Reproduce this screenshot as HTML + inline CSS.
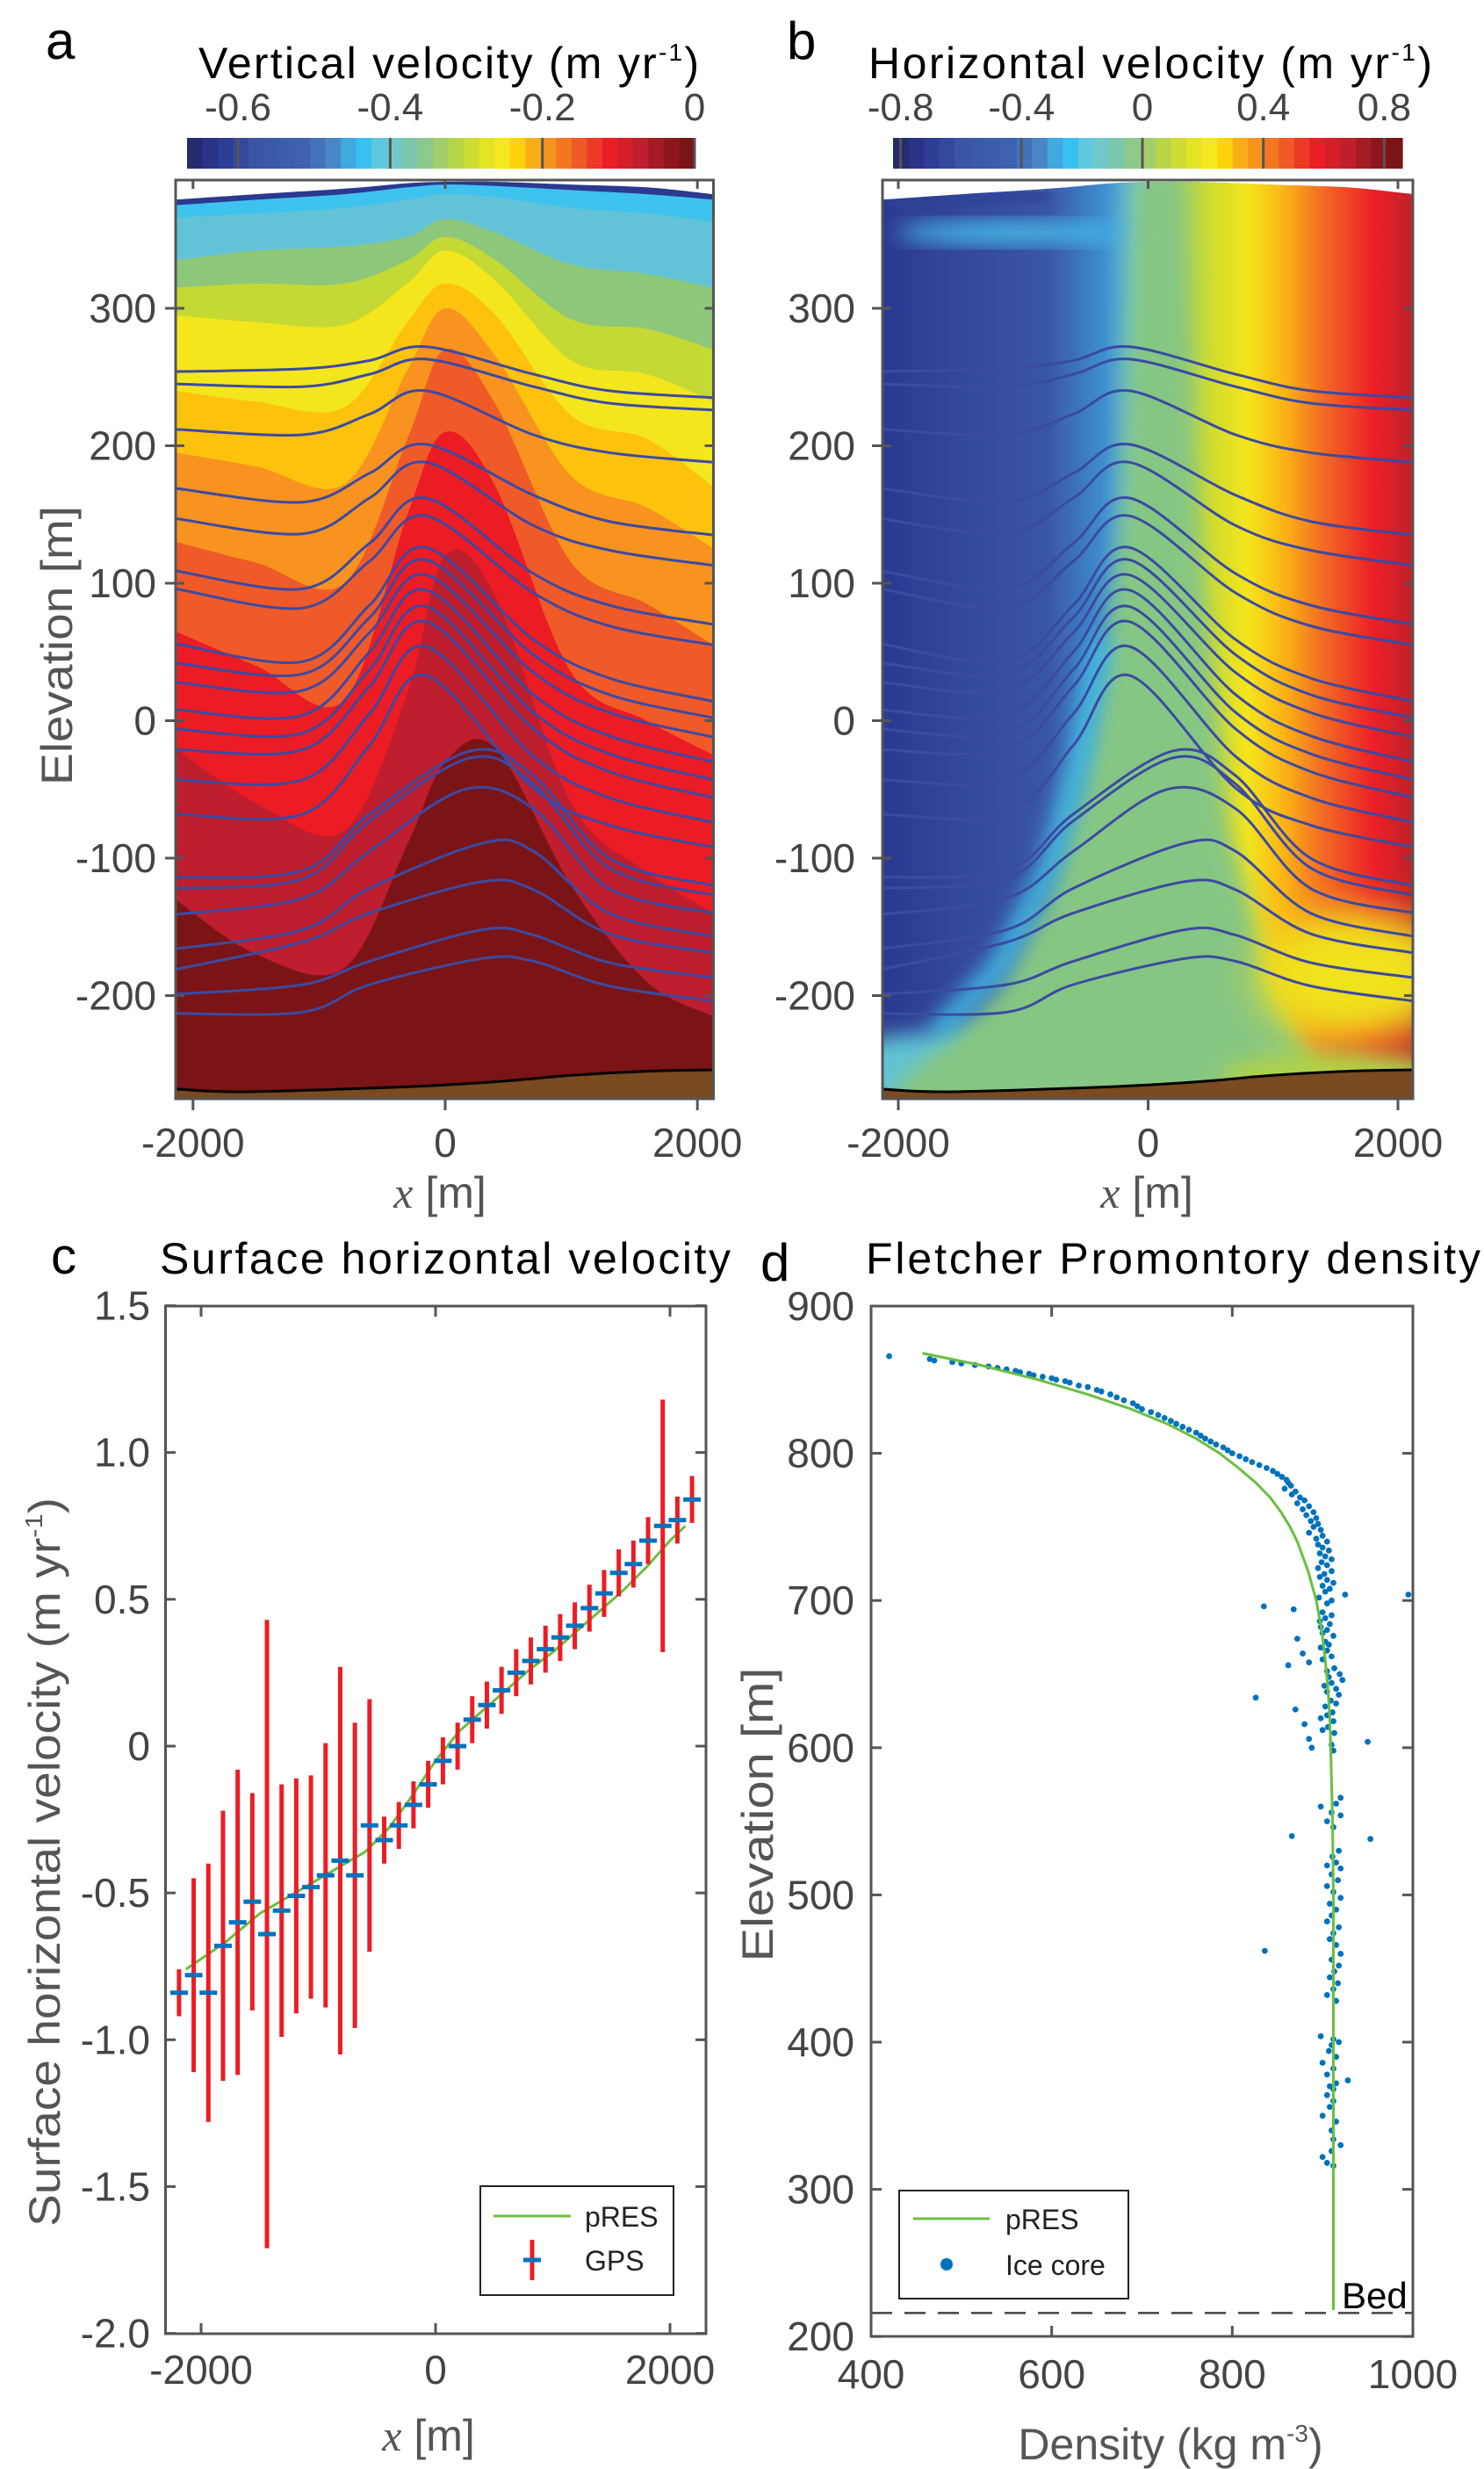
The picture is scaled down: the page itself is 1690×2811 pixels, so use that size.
<!DOCTYPE html>
<html><head><meta charset="utf-8"><style>
html,body{margin:0;padding:0;background:#fff;}
svg{display:block;font-family:"Liberation Sans",sans-serif;}
</style></head><body>
<svg id="fig" xmlns="http://www.w3.org/2000/svg" width="1690" height="2811" viewBox="0 0 1690 2811">
<defs>
  <clipPath id="clipA"><rect x="200" y="205" width="612.5" height="1046"/></clipPath>
  <clipPath id="clipB"><rect x="1005" y="205" width="604" height="1046"/></clipPath>
  <filter id="blur12" x="-30%" y="-30%" width="160%" height="160%"><feGaussianBlur stdDeviation="12"/></filter>
  <filter id="blur20" x="-50%" y="-50%" width="200%" height="200%"><feGaussianBlur stdDeviation="22"/></filter>
  <filter id="blur6" x="-20%" y="-20%" width="140%" height="140%"><feGaussianBlur stdDeviation="6"/></filter>
</defs>

<g>
  <text x="52" y="67" font-size="60" fill="#000">a</text>
  <text x="226" y="89" font-size="50" textLength="570" fill="#000">Vertical velocity (m yr<tspan font-size="28" dy="-20">-1</tspan><tspan dy="20">)</tspan></text>
  <g id="cbarA"></g>
  <g id="fieldA" clip-path="url(#clipA)"></g>
  <g id="linesA" clip-path="url(#clipA)"></g>
  <rect x="200" y="205" width="612.5" height="1046" fill="none" stroke="#555" stroke-width="3"/>
  <g id="ticksA"></g>
  <text transform="translate(82,735) rotate(-90)" text-anchor="middle" font-size="50" textLength="318" lengthAdjust="spacingAndGlyphs" fill="#555">Elevation [m]</text>
  <text x="501" y="1375" text-anchor="middle" font-size="50" fill="#555"><tspan font-style="italic" font-family="Liberation Serif, serif">x</tspan> [m]</text>
</g>

<g>
  <text x="896" y="67" font-size="60" fill="#000">b</text>
  <text x="989" y="89" font-size="50" textLength="642" fill="#000">Horizontal velocity (m yr<tspan font-size="28" dy="-20">-1</tspan><tspan dy="20">)</tspan></text>
  <g id="cbarB"></g>
  <g id="fieldB" clip-path="url(#clipB)"></g>
  <g id="linesB" clip-path="url(#clipB)"></g>
  <rect x="1005" y="205" width="604" height="1046" fill="none" stroke="#555" stroke-width="3"/>
  <g id="ticksB"></g>
  <text x="1306" y="1375" text-anchor="middle" font-size="50" fill="#555"><tspan font-style="italic" font-family="Liberation Serif, serif">x</tspan> [m]</text>
</g>

<g>
  <text x="58" y="1450" font-size="58" fill="#000">c</text>
  <text x="182" y="1450" font-size="50" textLength="650" fill="#000">Surface horizontal velocity</text>
  <g id="plotC"></g>
  <rect x="188.5" y="1487" width="615.5" height="1170" fill="none" stroke="#555" stroke-width="3"/>
  <g id="ticksC"></g>
  <text transform="translate(68,2120) rotate(-90)" text-anchor="middle" font-size="50" textLength="830" lengthAdjust="spacingAndGlyphs" fill="#555">Surface horizontal velocity (m yr<tspan font-size="28" dy="-20">-1</tspan><tspan dy="20">)</tspan></text>
  <text x="488" y="2790" text-anchor="middle" font-size="50" fill="#555"><tspan font-style="italic" font-family="Liberation Serif, serif">x</tspan> [m]</text>
  <g>
    <rect x="547" y="2489" width="220" height="124" fill="#fff" stroke="#222" stroke-width="2"/>
    <line x1="562" y1="2523" x2="650" y2="2523" stroke="#6abf3f" stroke-width="3"/>
    <text x="666" y="2535" font-size="32" fill="#222">pRES</text>
    <line x1="606" y1="2550" x2="606" y2="2596" stroke="#ed1c24" stroke-width="5"/>
    <line x1="596" y1="2573" x2="616" y2="2573" stroke="#0072bd" stroke-width="5"/>
    <text x="666" y="2585" font-size="32" fill="#222">GPS</text>
  </g>
</g>

<g>
  <text x="866" y="1458" font-size="60" fill="#000">d</text>
  <text x="986" y="1450" font-size="50" textLength="700" fill="#000">Fletcher Promontory density</text>
  <g id="plotD"></g>
  <rect x="992" y="1487" width="617" height="1173" fill="none" stroke="#555" stroke-width="3"/>
  <g id="ticksD"></g>
  <text transform="translate(880,2066) rotate(-90)" text-anchor="middle" font-size="50" textLength="335" lengthAdjust="spacingAndGlyphs" fill="#555">Elevation [m]</text>
  <text x="1333" y="2800" text-anchor="middle" font-size="50" fill="#555">Density (kg m<tspan font-size="28" dy="-20">-3</tspan><tspan dy="20">)</tspan></text>
  <text x="1528" y="2628" font-size="42" fill="#000">Bed</text>
  <g>
    <rect x="1024" y="2494" width="261" height="123" fill="#fff" stroke="#222" stroke-width="2"/>
    <line x1="1040" y1="2526" x2="1127" y2="2526" stroke="#6abf3f" stroke-width="3"/>
    <text x="1145" y="2538" font-size="32" fill="#222">pRES</text>
    <circle cx="1078" cy="2578" r="7" fill="#0072bd"/>
    <text x="1145" y="2590" font-size="32" fill="#222">Ice core</text>
  </g>
</g>
</svg>

<script>
const NS="http://www.w3.org/2000/svg";
const cmapColors=["#262b6e","#2a3388","#2e3d95","#34489e","#3a55a6","#3c58a8","#3d5cab","#3f62ae","#4372b8","#4a86c5","#3fa9e0","#38c1ee","#5dc8e0","#70c9c8","#7cc7ac","#8dc88c","#a2ce6b","#b8d54a","#cddd33","#e3e424","#f2e81d","#fdd20b","#f9ae18","#f7941d","#f37621","#ef5a27","#ec3a26","#ea1e25","#d41f28","#bd1f2c","#a51b24","#8d161c","#7a1418"];
const cbarATicks=[-0.6,-0.4,-0.2,0];
const cbarATickLabels=["-0.6","-0.4","-0.2","0"];
const cbarBTicks=[-0.8,-0.4,0,0.4,0.8];
const cbarBTickLabels=["-0.8","-0.4","0","0.4","0.8"];
const elevTicks=[-200,-100,0,100,200,300];
const elevTickLabels=["-200","-100","0","100","200","300"];
const xTicks=[-2000,0,2000];
const xTickLabels=["-2000","0","2000"];

const layerPeakX=[-150,-150,-150,-150,-150,-150,-150,-150,-150,-150,-150,-150,-150,-150,-150,200,200,150,300,300,300,300];
const layerElev=[
 [254,256,262,272,252,240,235],
 [245,243,252,263,243,231,226],
 [212,208,223,240,208,195,188],
 [169,159,180,201,164,145,135],
 [147,136,162,188,142,124,113],
 [109,96,129,162,107,84,70],
 [96,82,116,149,93,69,55],
 [56,43,84,126,59,31,14],
 [42,34,75,117,48,19,2],
 [28,22,64,106,35,6,-12],
 [8,4,50,95,19,-11,-30],
 [-6,-9,37,83,6,-24,-43],
 [-21,-21,25,72,-6,-37,-56],
 [-43,-43,5,54,-26,-56,-74],
 [-68,-68,-18,33,-49,-76,-92],
 [-114,-109,-68,-22,-40,-100,-120],
 [-122,-115,-73,-27,-46,-107,-127],
 [-141,-129,-95,-50,-64,-122,-140],
 [-166,-152,-122,-89,-95,-140,-157],
 [-181,-161,-140,-117,-123,-155,-169],
 [-199,-192,-175,-152,-156,-176,-187],
 [-213,-212,-192,-173,-175,-193,-204]
];
const bandX=[-2139,-1500,-800,-300,0,400,1000,1600,2128];
const bandColors=["#2b3990","#3ec3ee","#62c2d8","#8dc77a","#c4d934","#f4e61c","#fdc20e","#f7931e","#f05a28","#ec1c24","#be1e2d","#7b1416"];
const bandElev=[
 [379,383,387,391,392,392,390,388,383],
 [375,379,383,388,390,389,386,383,379],
 [366,369,373,379,383,381,373,369,363],
 [335,342,345,352,365,355,332,325,315],
 [315,318,318,335,352,335,292,285,270],
 [295,290,288,318,342,320,262,252,232],
 [240,232,228,290,318,295,222,205,170],
 [195,185,172,255,300,265,178,155,125],
 [130,115,100,205,270,230,115,85,55],
 [65,40,15,150,210,170,35,0,-25],
 [-20,-60,-80,20,120,90,-60,-110,-140],
 [-130,-170,-180,-90,-30,-20,-120,-190,-215]
];
const surfElev=[379,383,387,391,392,392,390,388,383];
const bedX=[-2139,-1600,-500,0,500,1000,1600,2128];
const bedElev=[-268,-270,-267,-265,-262,-258,-255,-254];
const bGradX=[-2139,-1500,-800,-350,-100,150,500,800,1100,1400,1800,2128];
const bGradColors=["#2b3990","#34479d","#3a56a7","#3f8fd0","#6cc5d0","#8ac87c","#cfdc2f","#f5e51b","#fbb116","#f26b23","#ec2027","#c0202a"];

const gpsX=[-2188,-2063,-1938,-1813,-1688,-1563,-1438,-1313,-1188,-1063,-938,-813,-688,-563,-438,-313,-188,-63,63,188,313,438,563,688,813,938,1063,1188,1313,1438,1563,1688,1813,1938,2063,2188];
const gpsV=[-0.84,-0.78,-0.84,-0.68,-0.60,-0.53,-0.64,-0.56,-0.51,-0.48,-0.44,-0.39,-0.44,-0.27,-0.32,-0.27,-0.20,-0.13,-0.05,0.00,0.09,0.14,0.19,0.25,0.29,0.33,0.37,0.41,0.47,0.52,0.59,0.62,0.70,0.75,0.77,0.84];
const gpsErr=[0.08,0.33,0.44,0.46,0.52,0.37,1.07,0.43,0.40,0.38,0.45,0.66,0.52,0.43,0.08,0.08,0.08,0.08,0.08,0.08,0.08,0.08,0.08,0.08,0.08,0.08,0.08,0.08,0.08,0.08,0.08,0.08,0.08,0.43,0.08,0.08];
const presX=[-2130,-1800,-1500,-1200,-900,-600,-400,-200,0,200,400,600,800,1000,1200,1400,1600,1800,2000,2130];
const presV=[-0.76,-0.67,-0.57,-0.50,-0.43,-0.36,-0.28,-0.17,-0.05,0.05,0.12,0.19,0.26,0.32,0.39,0.46,0.53,0.61,0.70,0.75];
const cYTicks=[-2.0,-1.5,-1.0,-0.5,0,0.5,1.0,1.5];
const cYTickLabels=["-2.0","-1.5","-1.0","-0.5","0","0.5","1.0","1.5"];

const presElev=[868,860,850,840,830,820,810,800,790,780,770,760,750,740,720,700,680,660,640,620,600,550,500,400,300,218];
const presDens=[457,520,585,640,688,728,760,786,807,826,842,854,864,872,884,893,899,903,906,908,909,911,912,912,912,912];
const coreElev=[866,864,863,862,861,860,859,858,857,856,855,854,853,852,851,850,849,848,846,845,843,842,840,838,836,834,832,830,828,826,824,822,820,818,816,814,812,810,808,806,804,802,800,798,796,794,792,790,788,786,784,782,780,778,776,774,772,770,768,766,764,762,760,758,756,754,752,750,748,746,744,742,740,738,736,734,732,730,728,726,724,722,720,718,716,714,712,710,708,706,704,702,700,698,696,694,692,690,688,686,684,682,680,678,676,674,672,670,668,666,664,662,660,658,656,654,652,650,648,646,644,642,640,638,636,634,632,630,628,626,624,622,620,618,616,614,612,610,606,604,602,600,598,566,562,560,556,554,550,546,540,538,530,526,522,520,518,514,510,506,502,498,494,490,486,482,478,474,470,466,462,460,456,452,448,444,440,436,432,428,404,402,400,398,394,390,386,382,378,374,372,370,368,364,360,356,350,346,340,334,330,326,322,318,316,704];
const coreDens=[420,465,470,490,500,515,530,540,550,560,565,575,580,590,600,605,615,620,630,640,650,655,665,672,680,690,695,700,710,718,725,732,738,745,752,760,765,770,776,782,790,795,800,808,815,822,830,838,845,850,855,860,862,865,858,870,866,875,880,872,885,878,890,882,893,887,895,890,898,885,900,893,905,895,900,907,897,903,910,899,905,895,910,902,897,905,912,900,908,903,925,896,910,905,835,868,900,910,903,897,908,898,905,900,912,872,903,907,898,905,878,910,900,885,862,913,905,919,907,922,910,902,915,905,918,826,909,915,903,870,911,905,898,912,880,906,900,913,885,950,910,888,912,920,915,898,910,920,905,912,866,953,918,911,915,905,920,910,917,905,912,920,908,915,910,905,918,912,908,915,836,920,910,918,913,908,917,912,905,915,898,912,918,910,907,915,900,912,905,928,915,908,912,905,912,908,900,915,910,912,920,910,900,905,912,995];
const dXTicks=[400,600,800,1000];
const dXTickLabels=["400","600","800","1000"];
const dYTicks=[200,300,400,500,600,700,800,900];
const dYTickLabels=["200","300","400","500","600","700","800","900"];
const bedLevel=216;

const xa=x=>507+x*0.1436;
const xb=x=>1307.5+x*0.14225;
const ye=e=>820.5-e*1.565;
const xc=x=>496+x*0.1335;
const yc=v=>1988-v*334.3;
const xd=d=>992+(d-400)*1.0283;
const yd=e=>1487+(900-e)*1.676;

function mk(tag,attrs,parent){const el=document.createElementNS(NS,tag);for(const k in attrs)el.setAttribute(k,attrs[k]);parent.appendChild(el);return el;}
function smooth(pts){let d=`M${pts[0][0].toFixed(1)},${pts[0][1].toFixed(1)}`;for(let i=0;i<pts.length-1;i++){const p0=pts[i-1]||pts[i],p1=pts[i],p2=pts[i+1],p3=pts[i+2]||p2;const c1=[p1[0]+(p2[0]-p0[0])/6,p1[1]+(p2[1]-p0[1])/6],c2=[p2[0]-(p3[0]-p1[0])/6,p2[1]-(p3[1]-p1[1])/6];d+=`C${c1[0].toFixed(1)},${c1[1].toFixed(1)} ${c2[0].toFixed(1)},${c2[1].toFixed(1)} ${p2[0].toFixed(1)},${p2[1].toFixed(1)}`;}return d;}

function colorbar(g,x0,x1,vmin,vmax,ticks,labels,prefix){
  const n=cmapColors.length,w=(x1-x0)/n;
  cmapColors.forEach((c,i)=>{const r=mk('rect',{x:x0+i*w,y:157,width:w+0.6,height:35,fill:c},g);
    
    });
  ticks.forEach((t,i)=>{const x=x0+(t-vmin)/(vmax-vmin)*(x1-x0);
    const l=mk('line',{x1:x,y1:157,x2:x,y2:192,stroke:'#555','stroke-width':3},g);
    
    
    const tx=mk('text',{x:x,y:137,'text-anchor':'middle','font-size':44,fill:'#444'},g);tx.textContent=labels[i];
    
    });
}
colorbar(document.getElementById('cbarA'),213,791,-0.667,0,cbarATicks,cbarATickLabels,'colorbar-a');
colorbar(document.getElementById('cbarB'),1017,1597,-0.825,0.86,cbarBTicks,cbarBTickLabels,'colorbar-b');

const fA=document.getElementById('fieldA');
bandElev.forEach((arr,i)=>{
  const pts=arr.map((e,j)=>[xa(bandX[j]),ye(e)]);
  const d=smooth(pts)+`L${xa(2300)},${ye(arr[arr.length-1])}L${xa(2300)},1300L${xa(-2300)},1300L${xa(-2300)},${ye(arr[0])}Z`;
  const p=mk('path',{d:d,fill:bandColors[i]},fA);
  
  
});
function bedPath(g,xf){
  const pts=bedElev.map((e,j)=>[xf(bedX[j]),ye(e)]);
  const p=mk('path',{d:smooth(pts)+`L${xf(2300)},1300L${xf(-2300)},1300Z`,fill:'#7a4a20'},g);
  
  
  const l=mk('path',{d:smooth(pts),fill:'none',stroke:'#000','stroke-width':3},g);
  
  
}
function surfaceMask(g,xf){
  const pts=surfElev.map((e,j)=>[xf(bandX[j]),ye(e)]);
  const p=mk('path',{d:smooth(pts)+`L${xf(2300)},${ye(surfElev[surfElev.length-1])}L${xf(2300)},150L${xf(-2300)},150L${xf(-2300)},${ye(surfElev[0])}Z`,fill:'#fff'},g);
  
  
}
bedPath(fA,xa);

const fB=document.getElementById('fieldB');
const defs=document.querySelector('defs');
const lg=mk('linearGradient',{id:'gradB',gradientUnits:'userSpaceOnUse',x1:xb(-2139),y1:0,x2:xb(2128),y2:0},defs);
bGradX.forEach((x,i)=>mk('stop',{offset:((x+2139)/4267).toFixed(4),'stop-color':bGradColors[i]},lg));
const bg=mk('rect',{x:1005,y:200,width:604,height:1060,fill:'url(#gradB)'},fB);


const teal=mk('ellipse',{cx:xb(-1500),cy:ye(-255),rx:170,ry:45,fill:'#5ec3d6',filter:'url(#blur12)'},fB);


const greenPts=[[-2139,-300],[-2000,-262],[-1700,-240],[-1200,-195],[-800,-125],[-550,-45],[-350,40],[-200,150],[-100,395],[250,395],[380,150],[650,-80],[1000,-190],[1350,-255],[1450,-300]];
const gp=mk('path',{d:'M'+greenPts.map(p=>xb(p[0]).toFixed(1)+','+ye(p[1]).toFixed(1)).join('L')+'Z',fill:'#86c683',filter:'url(#blur12)'},fB);


const cy=mk('path',{d:'M'+[[-1700,-228],[-1200,-180],[-800,-110],[-550,-30],[-380,60]].map(p=>xb(p[0]).toFixed(1)+','+ye(p[1]).toFixed(1)).join('L'),fill:'none',stroke:'#40bfe8','stroke-width':22,filter:'url(#blur12)'},fB);


const cyTop=mk('ellipse',{cx:xb(-1100),cy:ye(355),rx:130,ry:12,fill:'#45c0ea',filter:'url(#blur12)'},fB);


const yl=mk('ellipse',{cx:xb(1650),cy:ye(-185),rx:110,ry:75,fill:'#f0e21f',filter:'url(#blur20)'},fB);


const gr=mk('ellipse',{cx:xb(1500),cy:ye(-260),rx:130,ry:30,fill:'#b0d24a',filter:'url(#blur12)'},fB);


surfaceMask(fB,xb);
const topBlue=mk('path',{d:smooth([[xb(-2139),ye(375)],[xb(-1500),ye(379)],[xb(-800),ye(383)]]),fill:'none',stroke:'#2e3f98','stroke-width':12,filter:'url(#blur6)'},fB);


surfaceMask(fB,xb);
bedPath(fB,xb);

function drawLayers(gid,xf){
  const g=document.getElementById(gid);
  layerElev.forEach((arr,i)=>{
    const xs=[-2139,-1130,-600,layerPeakX[i],700,1300,2128];
    const pts=arr.map((e,j)=>[xf(xs[j]),ye(e)]);
    const p=mk('path',{d:smooth(pts),fill:'none',stroke:'#3b4aa3','stroke-width':3},g);
    
    
  });
}
drawLayers('linesA',xa);
drawLayers('linesB',xb);

function frameTicks(g,xf,xl,xr,prefix,labelX){
  elevTicks.forEach((e,i)=>{const y=ye(e);
    mk('line',{x1:xl,y1:y,x2:xl+10,y2:y,stroke:'#555','stroke-width':3},g);
    mk('line',{x1:xr-10,y1:y,x2:xr,y2:y,stroke:'#555','stroke-width':3},g);
    mk('line',{x1:xl-12,y1:y,x2:xl,y2:y,stroke:'#555','stroke-width':3},g);
    const t=mk('text',{x:labelX,y:y+16,'text-anchor':'end','font-size':46,fill:'#444'},g);t.textContent=elevTickLabels[i];
    
    });
  xTicks.forEach((x,i)=>{const px=xf(x);
    mk('line',{x1:px,y1:1251,x2:px,y2:1264,stroke:'#555','stroke-width':3},g);
    mk('line',{x1:px,y1:205,x2:px,y2:215,stroke:'#555','stroke-width':3},g);
    const t=mk('text',{x:px,y:1317,'text-anchor':'middle','font-size':46,fill:'#444'},g);t.textContent=xTickLabels[i];
    
    });
}
frameTicks(document.getElementById('ticksA'),xa,200,812.5,'panel-a',178);
frameTicks(document.getElementById('ticksB'),xb,1005,1609,'panel-b',974);

const gC=document.getElementById('plotC');
const pres=mk('path',{d:'M'+presX.map((x,i)=>xc(x).toFixed(1)+','+yc(presV[i]).toFixed(1)).join('L'),fill:'none',stroke:'#6abf3f','stroke-width':3},gC);


gpsX.forEach((x,i)=>{
  const px=xc(x);
  const b=mk('line',{x1:px,y1:yc(gpsV[i]+gpsErr[i]),x2:px,y2:yc(gpsV[i]-gpsErr[i]),stroke:'#ed1c24','stroke-width':5},gC);
  
  
  const m=mk('line',{x1:px-10,y1:yc(gpsV[i]),x2:px+10,y2:yc(gpsV[i]),stroke:'#0072bd','stroke-width':5},gC);
  
  
});
const tC=document.getElementById('ticksC');
cYTicks.forEach((v,i)=>{const y=yc(v);
  mk('line',{x1:188.5,y1:y,x2:200,y2:y,stroke:'#555','stroke-width':3},tC);
  mk('line',{x1:792,y1:y,x2:804,y2:y,stroke:'#555','stroke-width':3},tC);
  const t=mk('text',{x:171,y:y+16,'text-anchor':'end','font-size':46,fill:'#444'},tC);t.textContent=cYTickLabels[i];
  
  });
xTicks.forEach((x,i)=>{const px=xc(x);
  mk('line',{x1:px,y1:2645,x2:px,y2:2657,stroke:'#555','stroke-width':3},tC);
  mk('line',{x1:px,y1:1487,x2:px,y2:1499,stroke:'#555','stroke-width':3},tC);
  const t=mk('text',{x:px,y:2714,'text-anchor':'middle','font-size':46,fill:'#444'},tC);t.textContent=xTickLabels[i];
  
  });

const gD=document.getElementById('plotD');
const bl=mk('line',{x1:992,y1:yd(bedLevel),x2:1609,y2:yd(bedLevel),stroke:'#444','stroke-width':2.5,'stroke-dasharray':'24,14'},gD);


coreElev.forEach((e,i)=>{
  const c=mk('circle',{cx:xd(coreDens[i]),cy:yd(e),r:3.4,fill:'#0072bd'},gD);
  
  
});
const pd=mk('path',{d:'M'+presElev.map((e,i)=>xd(presDens[i]).toFixed(1)+','+yd(e).toFixed(1)).join('L'),fill:'none',stroke:'#6abf3f','stroke-width':3},gD);


const tD=document.getElementById('ticksD');
dYTicks.forEach((v,i)=>{const y=yd(v);
  mk('line',{x1:992,y1:y,x2:1004,y2:y,stroke:'#555','stroke-width':3},tD);
  mk('line',{x1:1597,y1:y,x2:1609,y2:y,stroke:'#555','stroke-width':3},tD);
  const t=mk('text',{x:973,y:y+16,'text-anchor':'end','font-size':46,fill:'#444'},tD);t.textContent=dYTickLabels[i];
  
  });
dXTicks.forEach((d,i)=>{const px=xd(d);
  mk('line',{x1:px,y1:2648,x2:px,y2:2660,stroke:'#555','stroke-width':3},tD);
  mk('line',{x1:px,y1:1487,x2:px,y2:1499,stroke:'#555','stroke-width':3},tD);
  const t=mk('text',{x:px,y:2719,'text-anchor':'middle','font-size':46,fill:'#444'},tD);t.textContent=dXTickLabels[i];
  
  });
</script>
</body></html>
